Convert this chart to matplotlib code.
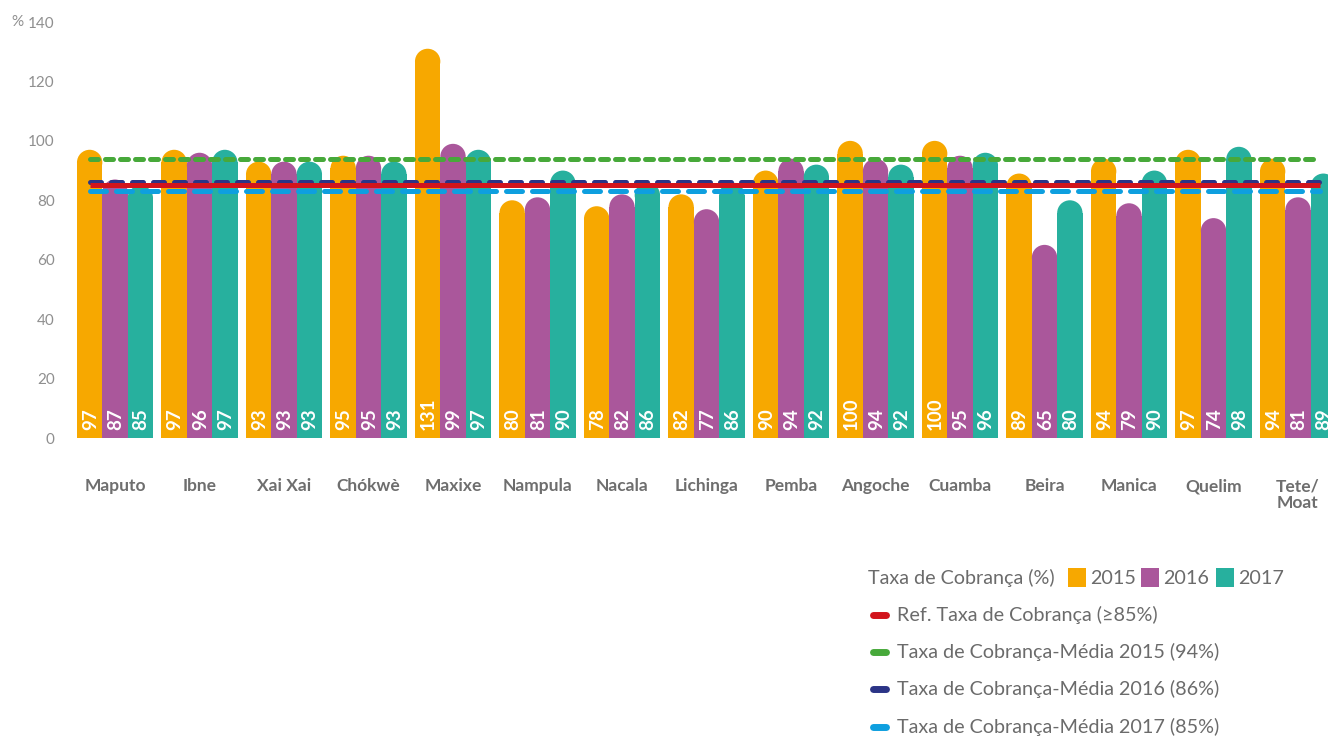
import numpy as np
import matplotlib.pyplot as plt
from matplotlib.patches import Ellipse, Rectangle
from matplotlib.lines import Line2D

plt.rcParams['font.family'] = ['Lato', 'DejaVu Sans']

cities = ['Maputo', 'Ibne', 'Xai Xai', 'Chókwè', 'Maxixe', 'Nampula', 'Nacala',
          'Lichinga', 'Pemba', 'Angoche', 'Cuamba', 'Beira', 'Manica', 'Quelim',
          'Tete/\nMoat']
taxa_2015 = [97, 97, 93, 95, 131, 80, 78, 82, 90, 100, 100, 89, 94, 97, 94]
taxa_2016 = [87, 96, 93, 95, 99, 81, 82, 77, 94, 94, 95, 65, 79, 74, 81]
taxa_2017 = [85, 97, 93, 93, 97, 90, 86, 86, 92, 92, 96, 80, 90, 98, 89]
years = ['2015', '2016', '2017']

ref_taxa = 85
media_2015 = 94
media_2016 = 86
media_2017 = 83

c_2015 = '#F7A800'
c_2016 = '#AA579B'
c_2017 = '#27B09E'
c_ref = '#D2141C'
c_m15 = '#47A93A'
c_m16 = '#2B3486'
c_m17 = '#0E9FDF'
grey = '#8f8f8f'

W, H = 1328, 737
fig = plt.figure(figsize=(W / 100, H / 100), dpi=100)
ax = fig.add_axes([70 / W, 299 / H, 1 - 70 / W, 416 / H])

x = np.arange(len(cities))
w = 0.3
ax.set_xlim((70 - 115) / 84.5, (1328 - 115) / 84.5)
ax.set_ylim(0, 140)

# size of the round cap in data units, so it looks circular on screen
px_x = 84.5
px_y = 416 / 140
ry = (w * px_x / 2) / px_y

for vals, col, off in [(taxa_2015, c_2015, -w), (taxa_2016, c_2016, 0), (taxa_2017, c_2017, w)]:
    vals = np.array(vals)
    ax.bar(x + off, vals - ry, width=w, color=col, edgecolor='none', zorder=2)
    for xi, v in zip(x + off, vals):
        ax.add_patch(Ellipse((xi, v - ry), w, 2 * ry, color=col, zorder=2, lw=0))
        ax.text(xi + 0.01, 2.6, f'{v}', rotation=90, ha='center', va='bottom',
                color='white', fontsize=13.5, fontweight='bold', zorder=5)

# reference and mean lines
xs = [x[0] - w, x[-1] + w * 0.85]
ax.plot(xs, [media_2015] * 2, color=c_m15, lw=3.6, dashes=(1.6, 1.4),
        solid_capstyle='round', dash_capstyle='round', zorder=3)
ax.plot(xs, [media_2016] * 2, color=c_m16, lw=3.6, dashes=(2.2, 2.0),
        dash_capstyle='round', zorder=3)
ax.plot(xs, [media_2017] * 2, color=c_m17, lw=3.6, dashes=(3.2, 2.0),
        dash_capstyle='round', zorder=3)
ax.plot(xs, [ref_taxa] * 2, color=c_ref, lw=3.6, solid_capstyle='butt', zorder=4)

ax.set_yticks(np.arange(0, 141, 20))
ax.tick_params(axis='y', length=0, pad=11, labelsize=11, labelcolor=grey)
ax.set_xticks(x)
ax.set_xticklabels(cities, fontsize=12.5, fontweight='bold', color='#6e6e6e',
                   linespacing=1.05)
ax.tick_params(axis='x', length=0, pad=29)
for s in ax.spines.values():
    s.set_visible(False)

fig.text(11 / W, 1 - 22 / H, '%', fontsize=11, color=grey, va='center', ha='left')

# legend
leg_txt = '#6b6b6b'
fs = 14.2
fig.text(868 / W, 1 - 578 / H, 'Taxa de Cobrança (%)', fontsize=fs, color=leg_txt,
         va='center', ha='left')
for px, col, lab in [(1068, c_2015, '2015'), (1141, c_2016, '2016'), (1216, c_2017, '2017')]:
    fig.add_artist(Rectangle((px / W, 1 - 587 / H), 18 / W, 19 / H,
                             transform=fig.transFigure, color=col, lw=0))
    fig.text((px + 22) / W, 1 - 578 / H, lab, fontsize=fs, color=leg_txt,
             va='center', ha='left')

items = [(c_ref, 'Ref. Taxa de Cobrança (≥85%)', 615),
         (c_m15, 'Taxa de Cobrança-Média 2015 (94%)', 652),
         (c_m16, 'Taxa de Cobrança-Média 2016 (86%)', 689),
         (c_m17, 'Taxa de Cobrança-Média 2017 (85%)', 727)]
for col, lab, py in items:
    fig.add_artist(Line2D([873 / W, 886 / W], [1 - py / H] * 2, transform=fig.transFigure,
                          color=col, lw=5, solid_capstyle='round'))
    fig.text(897 / W, 1 - py / H, lab, fontsize=fs, color=leg_txt, va='center', ha='left')

fig.savefig('out.png', dpi=100, facecolor='w')
